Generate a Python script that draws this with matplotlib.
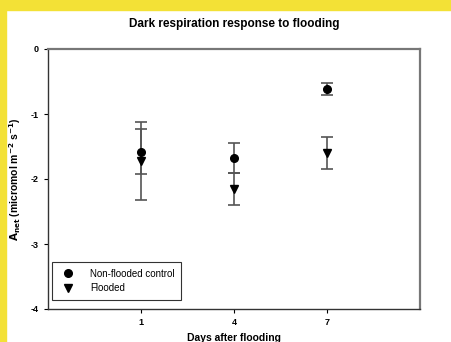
import matplotlib
matplotlib.use('Agg')
import matplotlib.pyplot as plt
from matplotlib.lines import Line2D
from matplotlib.patches import Rectangle

# data
days = [1, 4, 7]
control_mean = [-1.58, -1.68, -0.62]
control_err = [0.35, 0.23, 0.09]
flooded_mean = [-1.72, -2.15, -1.60]
flooded_err = [0.60, 0.25, 0.25]
series_labels = ['Non-flooded control', 'Flooded']

plt.rcParams['font.family'] = ['Liberation Sans', 'DejaVu Sans']
plt.rcParams['axes.unicode_minus'] = False

fig = plt.figure(figsize=(4.52, 3.42), dpi=100)
fig.patch.set_facecolor('white')
# yellow border on top and left
fig.patches.append(Rectangle((0, 0), 6 / 452, 1, transform=fig.transFigure,
                             color='#F3E136', zorder=-1))
fig.patches.append(Rectangle((0, 1 - 10 / 342), 1, 10 / 342, transform=fig.transFigure,
                             color='#F3E136', zorder=-1))

ax = fig.add_axes([48 / 452, 1 - 309 / 342, 372 / 452, 260 / 342])

ax.errorbar(days, control_mean, yerr=control_err, fmt='o', color='black',
            ecolor='#555555', elinewidth=1.2, capsize=4, capthick=1.2,
            markersize=5.5)
ax.errorbar(days, flooded_mean, yerr=flooded_err, fmt='v', color='black',
            ecolor='#555555', elinewidth=1.2, capsize=4, capthick=1.2,
            markersize=5.5)

ax.set_xlim(-2, 10)
ax.set_ylim(-4, 0)
ax.set_xticks(days)
ax.set_yticks([0, -1, -2, -3, -4])
ax.tick_params(direction='out', length=3, width=0.8, labelsize=6.5)
for lbl in ax.get_xticklabels() + ax.get_yticklabels():
    lbl.set_fontweight('bold')

for side in ['left', 'bottom']:
    ax.spines[side].set_color('#333333')
    ax.spines[side].set_linewidth(1.0)
for side in ['top', 'right']:
    ax.spines[side].set_color('#777777')
    ax.spines[side].set_linewidth(1.6)

ax.set_title('Dark respiration response to flooding', fontsize=8.5,
             fontweight='bold', pad=16)
ax.set_xlabel('Days after flooding', fontsize=7.5, fontweight='bold', labelpad=4)
ax.set_ylabel(r'$\mathbf{A_{net}}$ (micromol m$^{\mathbf{-2}}$ s$^{\mathbf{-1}}$)',
              fontsize=7.5, fontweight='bold', labelpad=6)

handles = [Line2D([], [], ls='none', marker='o', color='black', markersize=5.5),
           Line2D([], [], ls='none', marker='v', color='black', markersize=5.5)]
leg = ax.legend(handles, series_labels, loc='lower left', fontsize=7,
                frameon=True, fancybox=False, edgecolor='black',
                handletextpad=1.2, borderpad=0.7, labelspacing=0.45,
                borderaxespad=0.4, bbox_to_anchor=(0.0, 0.02))
leg.get_frame().set_linewidth(0.8)

fig.savefig('out.png', dpi=100)
